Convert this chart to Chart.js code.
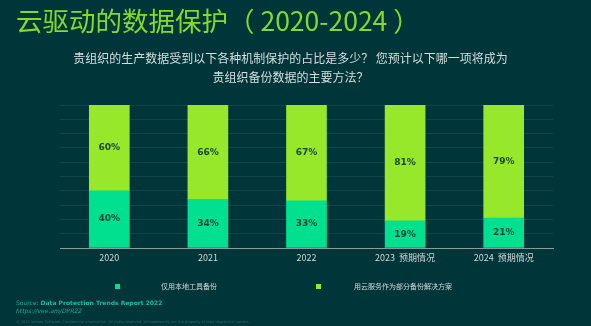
<!DOCTYPE html>
<html>
<head>
<meta charset="utf-8">
<script src="https://cdn.jsdelivr.net/npm/chart.js@4"></script>
<style>
  html, body { margin:0; padding:0; }
  body { width:591px; height:326px; background:#00363a; position:relative; overflow:hidden; font-family:"Noto Sans CJK SC","Noto Sans",sans-serif; }
  #wrap { position:absolute; left:0; top:0; width:591px; height:326px; }
  .title { position:absolute; left:16px; top:2px; font-size:26.5px; line-height:36px; color:#82da2a; white-space:nowrap; }
  .sub { position:absolute; left:0; width:581px; top:48px; text-align:center; font-size:12px; line-height:19px; color:#d6dede; }
  .leg { position:absolute; top:281px; font-size:7px; line-height:10px; color:#d0d8d8; white-space:nowrap; }
  .sq { position:absolute; width:5px; height:5px; top:283.5px; }
  .src { position:absolute; left:16px; top:299px; font-family:"DejaVu Sans",sans-serif; font-size:6px; line-height:8px; color:#1aa99a; white-space:nowrap; }
  .src b { color:#20b8a4; }
  .url { position:absolute; left:16px; top:307px; font-family:"DejaVu Sans",sans-serif; font-style:italic; font-size:6px; line-height:8px; color:#1aa99a; white-space:nowrap; }
  .copy { position:absolute; left:16px; top:319.5px; font-family:"DejaVu Sans",sans-serif; font-size:3.6px; line-height:5px; color:#2c6a66; white-space:nowrap; }
</style>
</head>
<body>
<div id="wrap"><canvas id="c" width="591" height="326"></canvas></div>
<div class="title">云驱动的数据保护（ 2020-2024 ）</div>
<div class="sub">贵组织的生产数据受到以下各种机制保护的占比是多少？ 您预计以下哪一项将成为<br>贵组织备份数据的主要方法？</div>
<div class="sq" style="left:114.5px;background:#00e08f;"></div>
<div class="leg" style="left:161px;">仅用本地工具备份</div>
<div class="sq" style="left:315.5px;background:#97e82a;"></div>
<div class="leg" style="left:354px;">用云服务作为部分备份解决方案</div>
<div class="src">Source: <b>Data Protection Trends Report 2022</b></div>
<div class="url">https://vee.am/DPR22</div>
<div class="copy">© 2022 Veeam Software. Confidential information. All rights reserved. All trademarks are the property of their respective owners.</div>
<script>
const categories = ["2020", "2021", "2022", "2023  预期情况", "2024  预期情况"];
const localOnly = [40, 34, 33, 19, 21];
const cloudPart = [60, 66, 67, 81, 79];
const seriesNames = ["仅用本地工具备份", "用云服务作为部分备份解决方案"];
const yTicks = [0, 10, 20, 30, 40, 50, 60, 70, 80, 90, 100];

const valueLabels = {
  id: 'valueLabels',
  afterDatasetsDraw(chart) {
    const ctx = chart.ctx;
    ctx.save();
    ctx.font = 'bold 9px "DejaVu Sans", sans-serif';
    ctx.fillStyle = '#174536';
    ctx.textAlign = 'center';
    ctx.textBaseline = 'middle';
    chart.data.datasets.forEach((ds, di) => {
      const meta = chart.getDatasetMeta(di);
      meta.data.forEach((el, i) => {
        const p = el.getCenterPoint();
        ctx.fillText(ds.data[i] + '%', p.x, p.y);
      });
    });
    ctx.restore();
  }
};

new Chart(document.getElementById('c'), {
  type: 'bar',
  data: {
    labels: categories,
    datasets: [
      { label: seriesNames[0], data: localOnly, backgroundColor: '#00e08f', barThickness: 40 },
      { label: seriesNames[1], data: cloudPart, backgroundColor: '#97e82a', barThickness: 40 }
    ]
  },
  options: {
    responsive: false,
    animation: false,
    events: [],
    layout: { padding: { left: 60, right: 38, top: 105, bottom: 58 } },
    plugins: { legend: { display: false }, tooltip: { enabled: false }, title: { display: false } },
    scales: {
      x: {
        stacked: true,
        grid: { display: false, drawTicks: false },
        border: { display: true, color: '#8a9c9c', width: 1 },
        ticks: { color: '#d0d8d8', font: { family: '"Noto Sans CJK SC", "Noto Sans", sans-serif', size: 9 }, padding: 4, maxRotation: 0, autoSkip: false },
        afterFit(s) { s.height = 20; }
      },
      y: {
        stacked: true,
        min: 0, max: 100,
        afterBuildTicks(s) { s.ticks = yTicks.map(v => ({ value: v })); },
        ticks: { display: false },
        grid: { color: 'rgba(255,255,255,0.07)', lineWidth: 1, drawTicks: false },
        border: { display: false },
        afterFit(s) { s.width = 0; }
      }
    }
  },
  plugins: [valueLabels]
});
</script>
</body>
</html>
